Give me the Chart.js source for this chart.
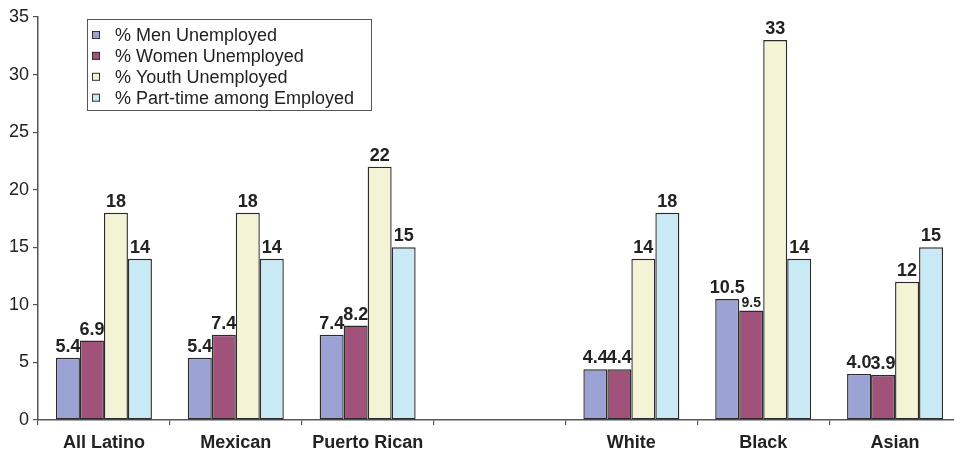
<!DOCTYPE html>
<html>
<head>
<meta charset="utf-8">
<script src="https://cdn.jsdelivr.net/npm/chart.js@4/dist/chart.umd.min.js"></script>
<style>
  html, body { margin: 0; padding: 0; background: #ffffff; overflow: hidden; }
  #wrap { position: relative; width: 961px; height: 454px; }
</style>
</head>
<body>
<div id="wrap"><canvas id="c" width="961" height="454"></canvas></div>
<script>
// Groups along the x axis (the empty slot separates Latino groups from the others)
const categories = ["All Latino", "Mexican", "Puerto Rican", "", "White", "Black", "Asian"];

// Percentages per group
const menUnemployed    = [5.4, 5.4, 7.4, null, 4.4, 10.5, 4.0];
const womenUnemployed  = [6.9, 7.4, 8.2, null, 4.4, 9.5, 3.9];
const youthUnemployed  = [18, 18, 22, null, 14, 33, 12];
const partTimeEmployed = [14, 14, 15, null, 18, 14, 15];

const seriesNames = [
  "% Men Unemployed",
  "% Women Unemployed",
  "% Youth Unemployed",
  "% Part-time among Employed"
];

const yTicks = [0, 5, 10, 15, 20, 25, 30, 35];

const FONT = "'Liberation Sans', Arial, Helvetica, sans-serif";
const colors = ["#9aa3d4", "#a0527a", "#f4f3d5", "#c9eaf5"];
const decimals = [1, 1, 0, 0];

// value labels drawn above every bar
const valueLabels = {
  id: "valueLabels",
  afterDatasetsDraw(chart) {
    const ctx = chart.ctx;
    ctx.save();
    ctx.fillStyle = "#222";
    ctx.textAlign = "center";
    ctx.textBaseline = "alphabetic";
    chart.data.datasets.forEach((ds, di) => {
      const meta = chart.getDatasetMeta(di);
      meta.data.forEach((bar, i) => {
        const v = ds.data[i];
        if (v === null || v === undefined) return;
        const small = (di === 1 && i === 5);
        ctx.font = "bold " + (small ? 14 : 18) + "px " + FONT;
        ctx.fillText(v.toFixed(decimals[di]), bar.x, bar.y - (small ? 4 : 6));
      });
    });
    ctx.restore();
  }
};

// boxed legend in the upper-left of the plot
const boxLegend = {
  id: "boxLegend",
  afterDraw(chart) {
    const ctx = chart.ctx;
    ctx.save();
    ctx.fillStyle = "#ffffff";
    ctx.fillRect(87, 19.5, 284.5, 91);
    ctx.strokeStyle = "#555";
    ctx.lineWidth = 1;
    ctx.strokeRect(87.5, 19.5, 284, 91);
    ctx.font = "18px " + FONT;
    ctx.textBaseline = "middle";
    ctx.textAlign = "left";
    chart.data.datasets.forEach((ds, i) => {
      const cy = 35 + i * 20.9;
      ctx.fillStyle = ds.backgroundColor;
      ctx.fillRect(92, cy - 4, 8, 8);
      ctx.strokeStyle = "#333";
      ctx.strokeRect(92.5, cy - 3.5, 7, 7);
      ctx.fillStyle = "#222";
      ctx.fillText(ds.label, 115, cy + 1);
    });
    ctx.restore();
  }
};

const seriesData = [menUnemployed, womenUnemployed, youthUnemployed, partTimeEmployed];

new Chart(document.getElementById("c"), {
  type: "bar",
  data: {
    labels: categories,
    datasets: seriesData.map((d, i) => ({
      label: seriesNames[i],
      data: d,
      backgroundColor: colors[i],
      borderColor: "#2b2b2b",
      borderWidth: 1.4,
      borderSkipped: false,
      categoryPercentage: 0.728,
      barPercentage: 1.0
    }))
  },
  options: {
    responsive: false,
    animation: false,
    layout: { padding: { top: 17, right: 0, bottom: 0, left: 0 } },
    plugins: { legend: { display: false }, tooltip: { enabled: false } },
    scales: {
      x: {
        grid: {
          display: true,
          drawOnChartArea: false,
          drawTicks: true,
          tickLength: 5,
          color: "#555",
          lineWidth: 1.2,
          offset: true
        },
        border: { display: true, color: "#555", width: 1.5 },
        ticks: {
          color: "#222",
          font: { family: FONT, size: 18, weight: "bold" },
          padding: 7,
          maxRotation: 0,
          autoSkip: false
        },
        afterFit(scale) { scale.height = 34; }
      },
      y: {
        min: 0,
        max: 35,
        afterBuildTicks(scale) { scale.ticks = yTicks.map(v => ({ value: v })); },
        grid: {
          display: true,
          drawOnChartArea: false,
          drawTicks: true,
          tickLength: 5,
          color: "#555",
          lineWidth: 1.2
        },
        border: { display: true, color: "#555", width: 1.5 },
        ticks: {
          color: "#222",
          font: { family: FONT, size: 18 },
          padding: 4
        },
        afterFit(scale) { scale.width = 38; }
      }
    }
  },
  plugins: [valueLabels, boxLegend]
});
</script>
</body>
</html>
